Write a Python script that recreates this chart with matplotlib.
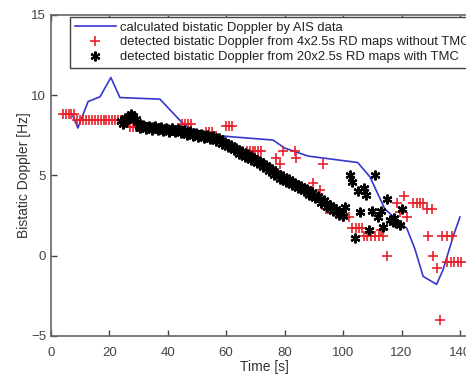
import matplotlib
matplotlib.use('Agg')
import matplotlib.pyplot as plt

plt.rcParams['font.family'] = ['Liberation Sans', 'DejaVu Sans']

# bistatic Doppler computed from AIS track
ais_t = [7.5, 9.2, 12.7, 16.8, 20.5, 23.6, 37.3, 44.8, 50, 62, 76, 80, 88, 105,
         109.2, 114.3, 119.5, 121.8, 124.6, 127.4, 132, 134.2, 137.7, 140]
ais_d = [8.7, 7.95, 9.6, 9.9, 11.1, 9.85, 9.75, 8.3, 7.6, 7.4, 7.2, 6.7, 6.2, 5.8,
         4.9, 2.9, 2.05, 1.7, 0.4, -1.3, -1.8, -0.9, 1.2, 2.4]

# detections from 4x2.5s RD maps without TMC
raw_t = [4, 5, 6, 7, 8,
         9, 10, 11, 12, 13, 14, 15, 16, 17, 18, 19, 20, 21, 22, 23, 24, 25,
         27, 28, 29, 30, 33, 36, 39, 42, 45, 46, 47, 48, 53, 54, 55, 60, 61, 62,
         67, 68, 69, 70, 71, 72, 71.5, 77, 78.4, 79.4, 83.5, 84, 93, 89.8, 92,
         94, 95, 96, 97, 98, 100, 102, 103, 104.3, 105.4, 106.5,
         107, 108.3, 109.6, 110.9, 112.2, 113.6, 113, 115, 118.4, 121,
         124, 125.2, 126.4, 127.5, 128.6, 130.4, 119.5, 121.8, 129,
         133.8, 135.5, 137.2, 130.8, 132, 135.5, 136.8, 138, 139.3, 140.5, 133.2]
raw_d = [8.8, 8.8, 8.8, 8.8, 8.8,
         8.45, 8.45, 8.45, 8.45, 8.45, 8.45, 8.45, 8.45, 8.45, 8.45, 8.45, 8.45, 8.45, 8.45, 8.45, 8.45, 8.45,
         8.0, 8.0, 8.0, 8.0, 8.0, 7.9, 7.9, 7.8, 8.2, 8.2, 8.2, 8.2, 7.7, 7.7, 7.7, 8.1, 8.1, 8.1,
         6.5, 6.5, 6.5, 6.5, 6.5, 6.5, 5.7, 6.1, 5.7, 6.5, 6.5, 6.1, 5.7, 4.5, 4.1,
         2.9, 2.9, 2.9, 2.9, 2.9, 2.4, 2.4, 1.7, 1.7, 1.7, 1.7,
         1.2, 1.2, 1.2, 1.2, 1.2, 1.2, 1.6, 0.0, 3.3, 3.7,
         3.3, 3.3, 3.3, 3.3, 2.9, 2.9, 2.7, 2.4, 1.2,
         1.2, 1.2, 1.2, 0.0, -0.8, -0.4, -0.4, -0.4, -0.4, -0.4, -4.0]

# detections from 20x2.5s RD maps with TMC (whole seconds)
tmc_t = [24, 25, 26, 27, 28, 29, 30, 31, 32, 33, 34, 35, 36, 37, 38, 39, 40,
         41, 42, 43, 44, 45, 46, 47, 48, 49, 50, 51, 52, 53, 54, 55, 56, 57, 58,
         59, 60, 61, 62, 63, 64, 65, 66, 67, 68, 69, 70, 71, 72, 73, 74, 75, 76,
         77, 78, 79, 80, 81, 82, 83, 84, 85, 86, 87, 88, 89, 90, 91, 92, 93, 94,
         95, 96, 97, 98, 99, 100,
         100.6, 102.4, 103, 111, 105, 107, 108, 105.8, 110, 113, 112, 115, 120,
         109, 113.7, 104, 116, 117, 118, 119.5, 117.5]
tmc_d = [8.4, 8.3, 8.5, 8.7, 8.7, 8.5, 8.1, 8.1, 8.05, 8.0, 8.0, 8.0, 7.95, 7.95, 7.9, 7.9, 7.9,
         7.85, 7.85, 7.8, 7.8, 7.75, 7.7, 7.65, 7.65, 7.6, 7.55, 7.5, 7.5, 7.45, 7.4, 7.4, 7.3, 7.25, 7.15,
         7.05, 6.95, 6.85, 6.75, 6.65, 6.55, 6.45, 6.35, 6.25, 6.15, 6.05, 5.95, 5.85, 5.75, 5.6, 5.5, 5.35, 5.25,
         5.1, 5.0, 4.9, 4.8, 4.7, 4.6, 4.5, 4.4, 4.3, 4.2, 4.1, 4.0, 3.9, 3.8, 3.65, 3.5, 3.4, 3.25,
         3.1, 3.0, 2.85, 2.7, 2.6, 2.45,
         3.0, 5.0, 4.6, 5.0, 4.0, 4.2, 3.8, 2.7, 2.8, 2.8, 2.4, 3.5, 2.9,
         1.6, 1.8, 1.1, 2.2, 2.1, 2.0, 1.9, 2.35]

# in-between detections (half seconds)
tmc_half_t = [24.5, 25.5, 26.5, 27.5, 28.5, 29.5, 30.5, 31.5, 32.5, 33.5, 34.5,
              35.5, 36.5, 37.5, 38.5, 39.5, 40.5, 41.5, 42.5, 43.5, 44.5, 45.5,
              46.5, 47.5, 48.5, 49.5, 50.5, 51.5, 52.5, 53.5, 54.5, 55.5, 56.5,
              57.5, 58.5, 59.5, 60.5, 61.5, 62.5, 63.5, 64.5, 65.5, 66.5, 67.5,
              68.5, 69.5, 70.5, 71.5, 72.5, 73.5, 74.5, 75.5, 76.5, 77.5, 78.5,
              79.5, 80.5, 81.5, 82.5, 83.5, 84.5, 85.5, 86.5, 87.5, 88.5, 89.5,
              90.5, 91.5, 92.5, 93.5, 94.5, 95.5, 96.5, 97.5, 98.5, 99.5]
tmc_half_d = [8.2, 8.55, 8.5, 8.8, 8.45, 8.35, 7.95, 8.15, 7.9, 8.1, 7.85,
              8.05, 7.8, 8.0, 7.75, 7.95, 7.72, 7.95, 7.68, 7.9, 7.62, 7.82,
              7.52, 7.75, 7.48, 7.67, 7.38, 7.6, 7.32, 7.5, 7.25, 7.45, 7.12,
              7.3, 6.95, 7.1, 6.75, 6.9, 6.55, 6.7, 6.35, 6.5, 6.15, 6.3,
              5.95, 6.1, 5.75, 5.9, 5.52, 5.65, 5.28, 5.4, 5.02, 5.15, 4.8,
              4.95, 4.6, 4.75, 4.4, 4.55, 4.2, 4.35, 4.0, 4.15, 3.8, 3.95,
              3.58, 3.7, 3.3, 3.45, 3.02, 3.15, 2.78, 2.88, 2.5, 2.62]

fig = plt.figure(figsize=(4.66, 3.76), dpi=100)
ax = fig.add_axes([0.1094, 0.1072, 0.9152, 0.853])

ax.plot(ais_t, ais_d, color='#3636d0', lw=1.2,
        label='calculated bistatic Doppler by AIS data')
ax.plot(raw_t, raw_d, ls='none', marker='+', color='#e8202a', ms=7, mew=1.2,
        label='detected bistatic Doppler from 4x2.5s RD maps without TMC')
ax.plot(tmc_t, tmc_d, ls='none', marker=(6, 2, 0), color='black', ms=7, mew=1.6,
        label='detected bistatic Doppler from 20x2.5s RD maps with TMC')
ax.plot(tmc_half_t, tmc_half_d, ls='none', marker=(6, 2, 0), color='black',
        ms=7, mew=1.6)

ax.set_xlim(0, 146)
ax.set_ylim(-5, 15)
ax.set_xticks([0, 20, 40, 60, 80, 100, 120, 140])
ax.set_yticks([-5, 0, 5, 10, 15])
ax.tick_params(direction='in', top=True, right=False, labelsize=9.5,
               colors='#444444', length=4, width=1)
ax.tick_params(axis='x', pad=8)
for s in ax.spines.values():
    s.set_color('#666666')
    s.set_linewidth(1.2)

ax.set_xlabel('Time [s]', fontsize=10, color='#333333', labelpad=1)
ax.set_ylabel('Bistatic Doppler [Hz]', fontsize=10, color='#333333', labelpad=0)

leg = ax.legend(loc='upper left', bbox_to_anchor=(0.0445, 0.994), borderaxespad=0,
                fontsize=9.4, fancybox=False, edgecolor='#444444', framealpha=1,
                handlelength=3.2, handletextpad=0.25, labelspacing=0.2,
                borderpad=0.35)
leg.get_frame().set_linewidth(1.0)
for t in leg.get_texts():
    t.set_color('#222222')

fig.savefig('out.png', dpi=100)
